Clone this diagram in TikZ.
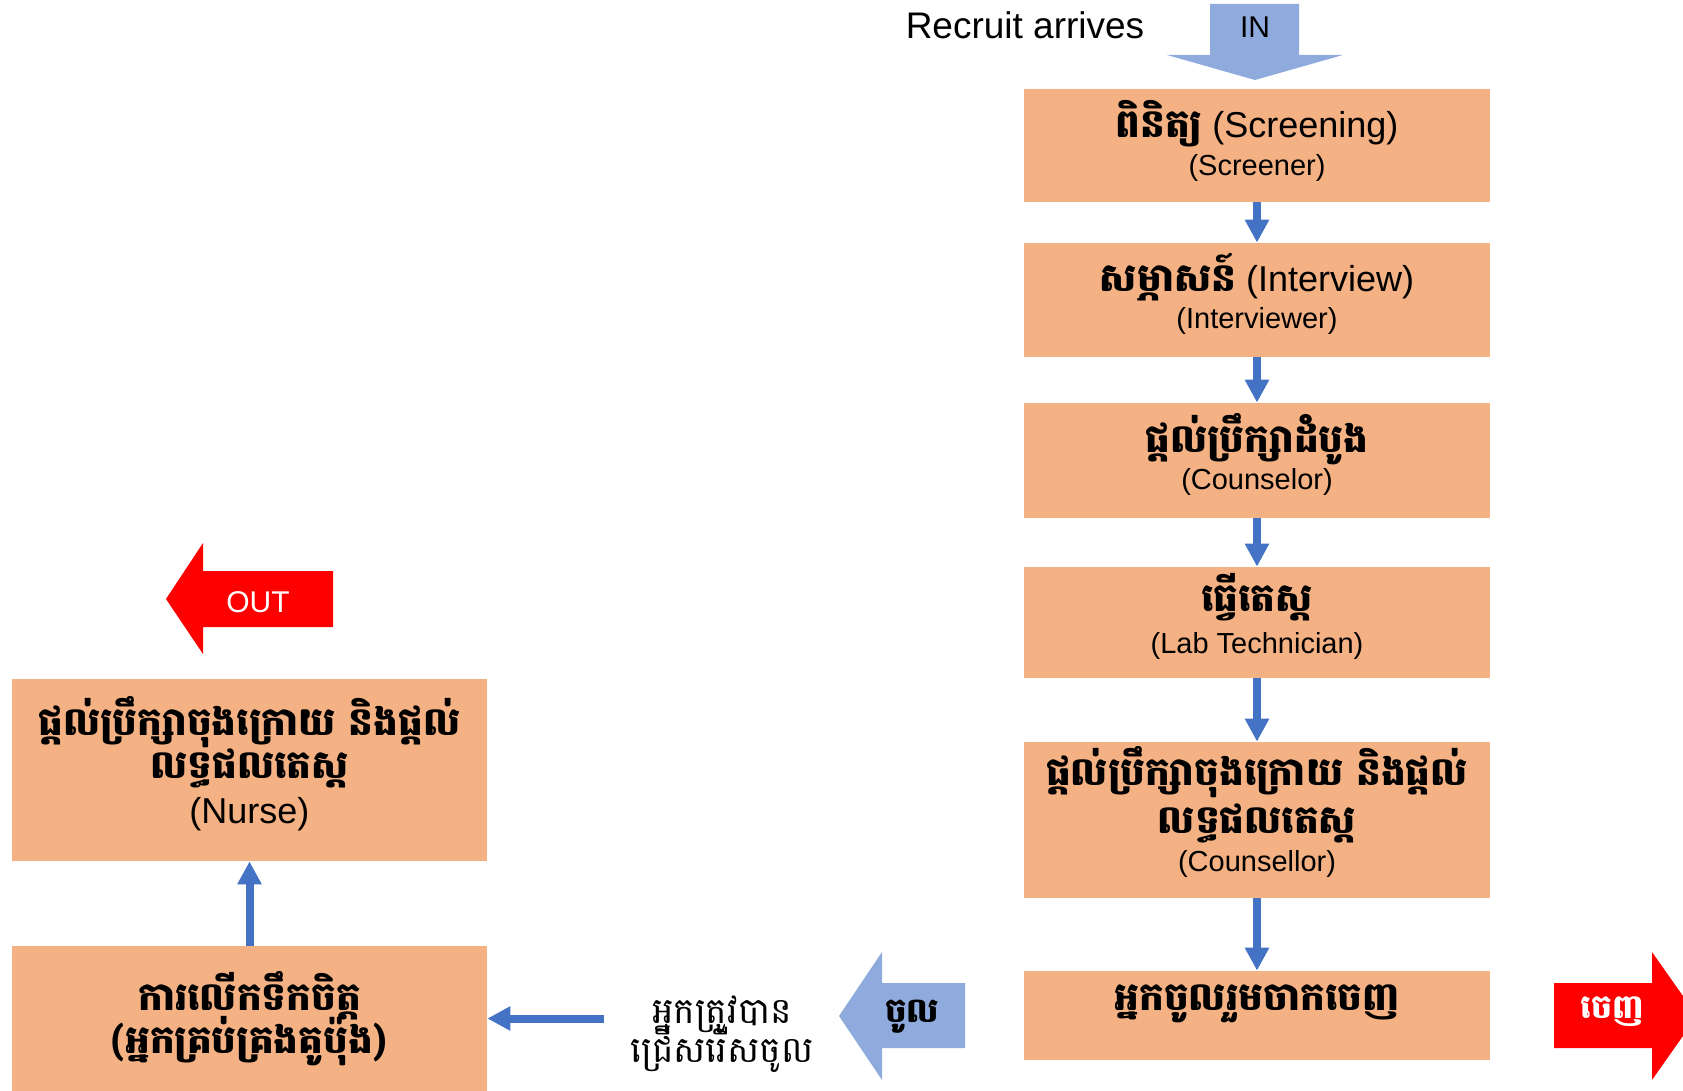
\documentclass[tikz,border=0pt]{standalone}
\usepackage{fontspec}
\setmainfont{Liberation Sans}
\newfontfamily\khmerfont[Script=Khmer]{Battambang}
\usetikzlibrary{arrows.meta}

\definecolor{stagefill}{HTML}{F4B183}
\definecolor{flowblue}{HTML}{4472C4}
\definecolor{inblue}{HTML}{8FAADC}
\definecolor{outred}{HTML}{FF0000}

\newcommand{\kh}[1]{{\khmerfont\bfseries\fontsize{19.5}{21.5}\selectfont #1}}
\newcommand{\rolefont}{\fontsize{14.5}{17}\selectfont}
\newcommand{\tightlines}{\lineskiplimit=-50pt\relax}
% invisible strut below the last line, lifts the text in its box
\newcommand{\lift}[1]{\rule[-#1]{0pt}{#1}}

\begin{document}
\begin{tikzpicture}[x=0.5pt,y=-0.5pt]
	\tikzset{stage/.style={fill=stagefill, minimum width=233pt, inner sep=0pt, align=center, font=\fontsize{18}{21.5}\selectfont\tightlines}}
	\tikzset{flow/.style={draw=flowblue, line width=4pt, -{Triangle[width=11.5pt,length=11.5pt]}}}
	\useasboundingbox (0,0) rectangle (1683,1091);
	%block arrows
	\fill[inblue] (1210,4) -- (1299,4) -- (1299,55) -- (1343,55) -- (1255,80) -- (1167,55) -- (1210,55) -- cycle;
	\fill[inblue] (965,983) -- (882,983) -- (882,952) -- (839,1016) -- (882,1080) -- (882,1048) -- (965,1048) -- cycle;
	\fill[outred] (1554,983) -- (1652,983) -- (1652,952) -- (1697,1016) -- (1652,1080) -- (1652,1048) -- (1554,1048) -- cycle;
	\fill[outred] (333,571) -- (203,571) -- (203,543) -- (166,599) -- (203,654) -- (203,627) -- (333,627) -- cycle;
	%labels
	\node[font=\fontsize{18.5}{22}\selectfont] (arrives) at (1025,25) {Recruit arrives};
	\node[font=\fontsize{15}{18}\selectfont] (in) at (1255,27) {IN};
	\node[text=white, font=\fontsize{15}{18}\selectfont] (out) at (258,602) {OUT};
	\node[font=\fontsize{17}{20}\selectfont\khmerfont\bfseries] (enter) at (912,1017) {ចូល};
	\node[text=white, font=\fontsize{16.5}{20}\selectfont\khmerfont\bfseries] (exit) at (1612,1012) {ចេញ};
	\node[align=center, inner xsep=13pt, font=\fontsize{18}{19.5}\selectfont\tightlines\khmerfont] (selected) at (722,1034) {អ្នកត្រូវបាន\\ជ្រើសរើសចូល};
	%stages
	\node[stage, minimum height=56.5pt] (screen) at (1257,145.5) {\kh{ពិនិត្យ} (Screening)\\[-2.5pt]{\rolefont (Screener)}\lift{7.3pt}};
	\node[stage, minimum height=57pt] (interview) at (1257,300) {\kh{សម្ភាសន៍} (Interview)\\[-3pt]{\rolefont (Interviewer)}\lift{9pt}};
	\node[stage, minimum height=57.5pt] (counsel) at (1257,460.5) {\kh{ផ្តល់ប្រឹក្សាដំបូង}\\[-3pt]{\rolefont (Counselor)}\lift{8.9pt}};
	\node[stage, minimum height=55.5pt] (lab) at (1257,622.5) {\kh{ធ្វើតេស្ត}\\[-0.5pt]{\rolefont (Lab Technician)}\lift{9.5pt}};
	\node[stage, minimum height=78pt] (post) at (1257,820) {\kh{ផ្តល់ប្រឹក្សាចុងក្រោយ និងផ្តល់}\\[2.5pt]\kh{លទ្ធផលតេស្ត}\\[-2.5pt]{\rolefont (Counsellor)}\lift{10.9pt}};
	\node[stage, minimum height=44.5pt, text depth=18pt] (leave) at (1257,1015.5) {\kh{អ្នកចូលរួមចាកចេញ}};
	\node[stage, minimum width=237.5pt, minimum height=91pt] (nurse) at (249.5,770) {\kh{ផ្តល់ប្រឹក្សាចុងក្រោយ និងផ្តល់}\\\kh{លទ្ធផលតេស្ត}\\[1pt](Nurse)\lift{10.2pt}};
	\node[stage, minimum width=237.5pt, minimum height=72.5pt] (motiv) at (249.5,1018.5) {\kh{ការលើកទឹកចិត្ត}\\\kh{(អ្នកគ្រប់គ្រងគូប៉ុង)}};
	%flow
	\draw[flow] (screen) -- (interview);
	\draw[flow] (interview) -- (counsel);
	\draw[flow] (counsel) -- (lab);
	\draw[flow] (lab) -- (post);
	\draw[flow] (post) -- (leave);
	\draw[flow] (motiv) -- (nurse);
	\draw[flow] (selected.west |- motiv.east) -- (motiv.east);
\end{tikzpicture}
\end{document}
